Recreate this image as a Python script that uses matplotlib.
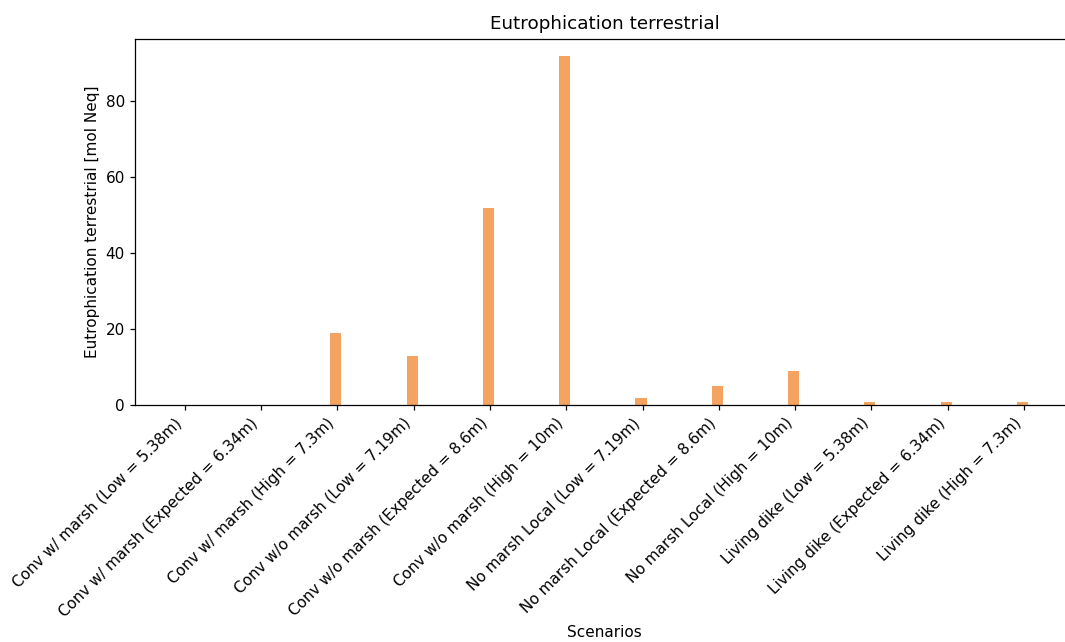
import numpy as np
import matplotlib.pyplot as plt

# scenario names and terrestrial eutrophication results
scenarios = [
    "Conv w/ marsh (Low = 5.38m)",
    "Conv w/ marsh (Expected = 6.34m)",
    "Conv w/ marsh (High = 7.3m)",
    "Conv w/o marsh (Low = 7.19m)",
    "Conv w/o marsh (Expected = 8.6m)",
    "Conv w/o marsh (High = 10m)",
    "No marsh Local (Low = 7.19m)",
    "No marsh Local (Expected = 8.6m)",
    "No marsh Local (High = 10m)",
    "Living dike (Low = 5.38m)",
    "Living dike (Expected = 6.34m)",
    "Living dike (High = 7.3m)",
]
eutro = [0.0, 0.0, 19.0, 13.0, 51.7, 91.7, 1.75, 5.0, 8.9, 0.9, 0.9, 0.9]

plt.rcParams["font.size"] = 11
plt.rcParams["axes.linewidth"] = 0.9
plt.rcParams["xtick.major.size"] = 3.9
plt.rcParams["ytick.major.size"] = 3.9
plt.rcParams["xtick.major.width"] = 0.9
plt.rcParams["ytick.major.width"] = 0.9

fig = plt.figure(figsize=(10.65, 6.42), dpi=100)
ax = fig.add_axes([0.127, 0.369, 0.881, 0.571])

x = np.arange(len(scenarios))
ax.bar(x - 0.02, eutro, width=0.145, color="sandybrown")

ax.set_xticks(x)
ax.set_xticklabels(scenarios, rotation=45, ha="right")
ax.set_xlim(-0.65, 11.65)
ax.set_ylim(0, max(eutro) * 1.05)

ax.set_title("Eutrophication terrestrial", fontsize=13.2, pad=6.6)
ax.set_xlabel("Scenarios", labelpad=4)
ax.set_ylabel("Eutrophication terrestrial [mol Neq]", labelpad=4)

fig.savefig("out.png", dpi=100)
